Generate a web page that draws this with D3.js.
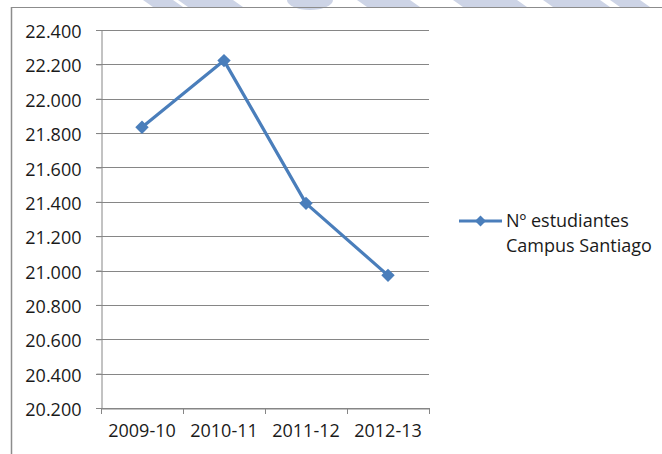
<!DOCTYPE html>
<html><head><meta charset="utf-8">
<script src="https://cdn.jsdelivr.net/npm/d3@7/dist/d3.min.js"></script>
<style>html,body{margin:0;padding:0;background:#fff;}svg{display:block;}</style>
</head><body>
<svg id="c" width="662" height="454"></svg>
<script>
const categories = ["2009-10", "2010-11", "2011-12", "2012-13"];
const values = [21834, 22222, 21391, 20972];
const yTicks = [20200, 20400, 20600, 20800, 21000, 21200, 21400, 21600, 21800, 22000, 22200, 22400];
const seriesName = ["Nº estudiantes", "Campus Santiago"];

const svg = d3.select("#c");
const W = 662, H = 454;
const font = "'Open Sans', sans-serif";
const fs = 18;
const blue = "#4a7ebb";
const grid = "#868686";
const txt = "#1a1a1a";

// faint watermark strip at top
const wm = svg.append("g").attr("fill", "#cdd4e6");
const wmShapes = [[143,173],[178,233],[357,410],[453,517],[543,600],[610,640]];
wm.selectAll("path").data(wmShapes).join("path")
  .attr("d", d => `M${d[0]},0 L${d[1]},0 L${d[1]+10},7 L${d[0]+10},7 Z`);
wm.append("path").attr("d", "M287,0 A23,10 0 0 0 333,0 Z");

// chart frame (top and left visible)
svg.append("line").attr("x1", 11).attr("x2", W).attr("y1", 7.5).attr("y2", 7.5).attr("stroke", "#8c8c8c").attr("stroke-width", 1);
svg.append("line").attr("x1", 11.5).attr("x2", 11.5).attr("y1", 7).attr("y2", H).attr("stroke", "#8c8c8c").attr("stroke-width", 1.5);

const x0 = 101, x1 = 429, yTop = 30, yBot = 408;
const x = d3.scaleBand().domain(categories).range([x0, x1]).padding(0);
const y = d3.scaleLinear().domain([20200, 22400]).range([yBot, yTop]);

// gridlines
svg.append("g").selectAll("line").data(yTicks).join("line")
  .attr("x1", x0 - 5).attr("x2", x1)
  .attr("y1", d => Math.round(y(d)) + 0.5).attr("y2", d => Math.round(y(d)) + 0.5)
  .attr("stroke", grid).attr("stroke-width", 1);

// y axis
const fmt = d => d3.format(",.3f")(d / 1000).replace(/,/g, "");
const yAxis = svg.append("g").attr("transform", `translate(${x0 + 0.5},0)`)
  .call(d3.axisLeft(y).tickValues(yTicks).tickSize(5).tickSizeOuter(0).tickFormat(fmt));
yAxis.select(".domain").attr("stroke", grid);
yAxis.selectAll(".tick line").attr("stroke", grid);
yAxis.selectAll(".tick text").attr("x", -20).attr("dy", "0.42em")
  .attr("font-family", font).attr("font-size", fs).attr("fill", txt);

// x axis
const xAxis = svg.append("g").attr("transform", `translate(0,${yBot + 0.5})`)
  .call(d3.axisBottom(x).tickSize(0).tickSizeOuter(0));
xAxis.select(".domain").attr("stroke", grid);
xAxis.selectAll(".tick line").remove();
xAxis.selectAll(".tick text").attr("y", 21).attr("dy", "0.4em")
  .attr("font-family", font).attr("font-size", fs).attr("fill", txt);
// category boundary ticks
const bounds = categories.map(c => x(c)).concat([x1]);
svg.append("g").selectAll("line").data(bounds).join("line")
  .attr("x1", d => Math.round(d) + 0.5).attr("x2", d => Math.round(d) + 0.5)
  .attr("y1", yBot).attr("y2", yBot + 6).attr("stroke", grid);

// line
const cx = c => x(c) + x.bandwidth() / 2;
const line = d3.line().x((d, i) => cx(categories[i])).y(d => y(d));
svg.append("path").datum(values).attr("d", line)
  .attr("fill", "none").attr("stroke", blue).attr("stroke-width", 3.2).attr("stroke-linejoin", "round");

svg.append("g").selectAll("path").data(values).join("path")
  .attr("d", d3.symbol().type(d3.symbolSquare).size(90))
  .attr("transform", (d, i) => `translate(${cx(categories[i])},${y(d)}) rotate(45)`)
  .attr("fill", blue);

// legend
const lg = svg.append("g");
lg.append("line").attr("x1", 459).attr("x2", 502).attr("y1", 221).attr("y2", 221)
  .attr("stroke", blue).attr("stroke-width", 3.2);
lg.append("path").attr("d", d3.symbol().type(d3.symbolSquare).size(60))
  .attr("transform", "translate(480.5,221) rotate(45)").attr("fill", blue);
lg.selectAll("text").data(seriesName).join("text")
  .attr("x", 506).attr("y", (d, i) => 227 + i * 25)
  .attr("font-family", font).attr("font-size", fs).attr("fill", txt)
  .text(d => d);
</script>
</body></html>
